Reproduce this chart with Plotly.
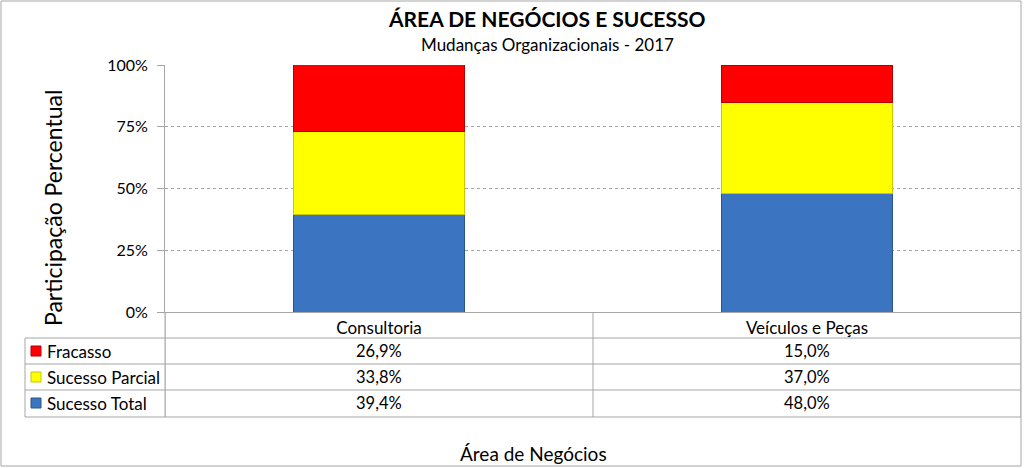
import plotly.graph_objects as go

W, H = 1024, 468

categories = ["Consultoria", "Veículos e Peças"]
series_names = ["Fracasso", "Sucesso Parcial", "Sucesso Total"]
fracasso = [26.9, 15.0]
sucesso_parcial = [33.8, 37.0]
sucesso_total = [39.4, 48.0]
y_ticks = [0, 25, 50, 75, 100]
y_tick_labels = ["0%", "25%", "50%", "75%", "100%"]

colors = {"Fracasso": "#FF0000", "Sucesso Parcial": "#FFFF00", "Sucesso Total": "#3B74C0"}
borders = {"Fracasso": "#B00000", "Sucesso Parcial": "#C8C800", "Sucesso Total": "#2C5487"}
values = {"Fracasso": fracasso, "Sucesso Parcial": sucesso_parcial, "Sucesso Total": sucesso_total}

FONT = "Lato"
GRID = "#A6A6A6"


def px(x):
    return x / W


def py(y):
    return 1 - y / H


fig = go.Figure()
# stack bottom to top
for name in ["Sucesso Total", "Sucesso Parcial", "Fracasso"]:
    fig.add_trace(go.Bar(
        x=list(range(len(categories))), y=values[name], name=name,
        width=0.4,
        marker=dict(color=colors[name], line=dict(color=borders[name], width=1)),
        showlegend=False,
    ))

plot_left, plot_right = 165, 1021
plot_top, plot_bottom = 65, 312
row_lines = [338, 364, 390, 417]
table_left = 25

fig.update_layout(
    barmode="stack",
    width=W, height=H,
    margin=dict(l=0, r=0, t=0, b=0),
    paper_bgcolor="white", plot_bgcolor="white",
    font=dict(family=FONT, size=17, color="#000000"),
    xaxis=dict(
        domain=[px(plot_left), px(plot_right)],
        range=[-0.5, len(categories) - 0.5],
        tickvals=list(range(len(categories))), ticktext=categories,
        showline=True, linecolor=GRID, linewidth=1,
        showgrid=False, zeroline=False, ticks="",
        tickfont=dict(size=17), ticklabelstandoff=1, automargin=False,
    ),
    yaxis=dict(
        domain=[py(plot_bottom), py(plot_top)],
        range=[0, 100],
        tickvals=y_ticks, ticktext=y_tick_labels,
        showline=True, linecolor=GRID, linewidth=1,
        showgrid=True, gridcolor=GRID, griddash="dot", gridwidth=1,
        zeroline=False, ticks="outside", ticklen=7, tickcolor=GRID,
        tickfont=dict(size=16), ticklabelstandoff=6, automargin=False,
    ),
)

shapes = []
# outer border
shapes.append(dict(type="rect", xref="paper", yref="paper",
                   x0=px(1), x1=px(1021), y0=py(466), y1=py(1),
                   line=dict(color=GRID, width=1)))
# table horizontal lines
for yl in row_lines:
    shapes.append(dict(type="line", xref="paper", yref="paper",
                       x0=px(table_left), x1=px(plot_right), y0=py(yl), y1=py(yl),
                       line=dict(color=GRID, width=1)))
# table vertical lines
shapes.append(dict(type="line", xref="paper", yref="paper",
                   x0=px(table_left), x1=px(table_left), y0=py(row_lines[0]), y1=py(row_lines[-1]),
                   line=dict(color=GRID, width=1)))
shapes.append(dict(type="line", xref="paper", yref="paper",
                   x0=px(plot_left), x1=px(plot_left), y0=py(plot_bottom), y1=py(row_lines[-1]),
                   line=dict(color=GRID, width=1)))
for i in range(len(categories) + 1):
    shapes.append(dict(type="line", xref="x", yref="paper",
                       x0=i - 0.5, x1=i - 0.5, y0=py(plot_bottom), y1=py(row_lines[-1]),
                       line=dict(color=GRID, width=1)))

annotations = []
# table rows
row_tops = [338, 364, 390]
for r, name in enumerate(series_names):
    yc = row_tops[r] + 13
    shapes.append(dict(type="rect", xref="paper", yref="paper",
                       x0=px(31), x1=px(41), y0=py(yc + 5), y1=py(yc - 5),
                       fillcolor=colors[name], line=dict(color=borders[name], width=1)))
    annotations.append(dict(text=name, xref="paper", yref="paper", x=px(45), y=py(yc),
                            xanchor="left", yanchor="middle", showarrow=False,
                            font=dict(size=17)))
    for c, cat in enumerate(categories):
        annotations.append(dict(text=f"{values[name][c]:.1f}%".replace(".", ","),
                                xref="x", yref="paper", x=c, y=py(yc),
                                xanchor="center", yanchor="middle", showarrow=False,
                                font=dict(size=16.5)))

# titles
annotations.append(dict(text="<b>ÁREA DE NEGÓCIOS E SUCESSO</b>", xref="paper", yref="paper",
                        x=px(546), y=py(19), xanchor="center", yanchor="middle",
                        showarrow=False, font=dict(size=21)))
annotations.append(dict(text="Mudanças Organizacionais - 2017", xref="paper", yref="paper",
                        x=px(547), y=py(44), xanchor="center", yanchor="middle",
                        showarrow=False, font=dict(size=17)))
annotations.append(dict(text="Participação Percentual", xref="paper", yref="paper",
                        x=px(53), y=py(208), xanchor="center", yanchor="middle",
                        textangle=-90, showarrow=False, font=dict(size=23)))
annotations.append(dict(text="Área de Negócios", xref="paper", yref="paper",
                        x=px(533), y=py(453), xanchor="center", yanchor="middle",
                        showarrow=False, font=dict(size=19)))

fig.update_layout(shapes=shapes, annotations=annotations)
fig.write_html("out.html")
